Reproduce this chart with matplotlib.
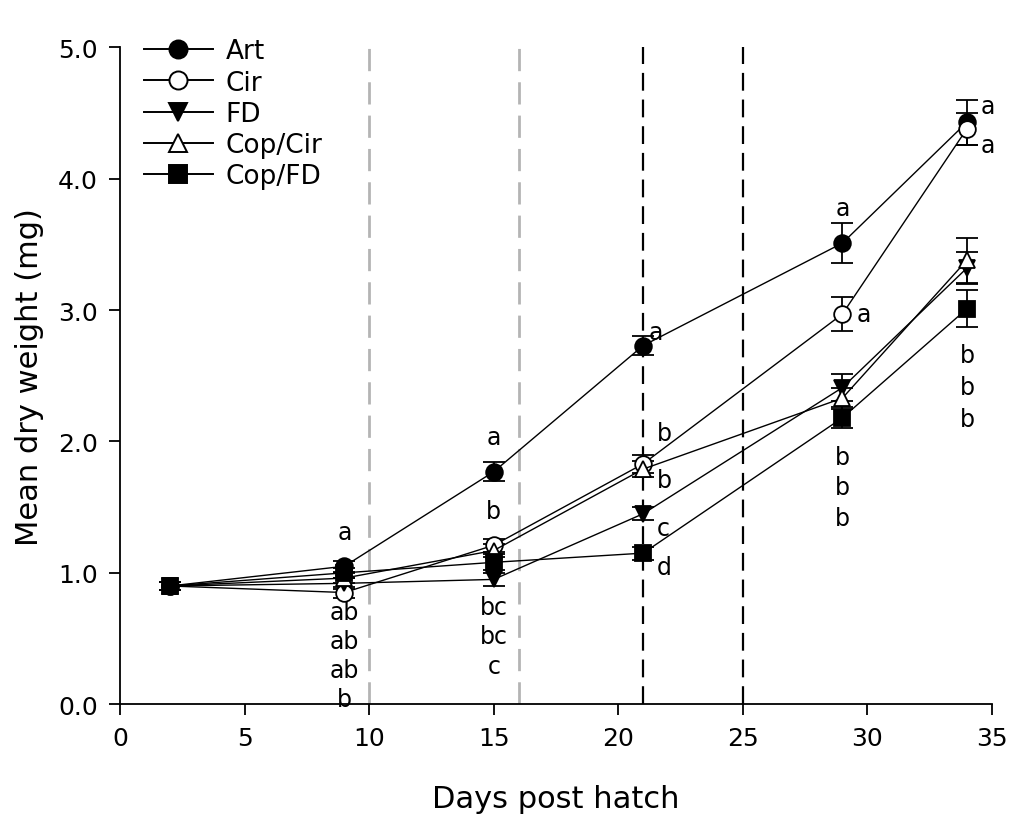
import numpy as np
import matplotlib.pyplot as plt
from matplotlib.lines import Line2D

plt.rcParams['font.family'] = ['DejaVu Sans']

# Sampling days
days = [2, 9, 15, 21, 29, 34]

# Mean dry weight (mg) and SE per diet
art = [0.90, 1.05, 1.77, 2.73, 3.51, 4.43]
art_se = [0.03, 0.04, 0.07, 0.07, 0.15, 0.17]
cir = [0.90, 0.85, 1.21, 1.83, 2.97, 4.38]
cir_se = [0.03, 0.04, 0.05, 0.07, 0.13, 0.12]
fd = [0.90, 0.92, 0.95, 1.45, 2.41, 3.32]
fd_se = [0.03, 0.04, 0.05, 0.05, 0.10, 0.12]
cop_cir = [0.90, 0.96, 1.17, 1.79, 2.33, 3.38]
cop_cir_se = [0.03, 0.04, 0.05, 0.06, 0.08, 0.17]
cop_fd = [0.90, 1.00, 1.08, 1.15, 2.18, 3.01]
cop_fd_se = [0.03, 0.04, 0.06, 0.05, 0.08, 0.14]

# Diet-change markers
grey_lines = [10, 16]
black_lines = [21, 25]

fig = plt.figure(figsize=(10.11, 8.2), dpi=100)
ax = fig.add_axes([0.119, 0.140, 0.862, 0.801])

for xv in grey_lines:
    ax.axvline(xv, color='#b4b4b4', ls=(0, (8, 4)), lw=2.0, zorder=1)
for xv in black_lines:
    ax.axvline(xv, color='black', ls=(0, (8, 4)), lw=1.6, zorder=1)

series = [
    ('Art', art, art_se, 'o', 'black'),
    ('Cir', cir, cir_se, 'o', 'white'),
    ('FD', fd, fd_se, 'v', 'black'),
    ('Cop/Cir', cop_cir, cop_cir_se, '^', 'white'),
    ('Cop/FD', cop_fd, cop_fd_se, 's', 'black'),
]
handles = []
for name, vals, se, mk, fc in series:
    ax.errorbar(days, vals, yerr=se, color='black', lw=1.0, marker=mk,
                mfc=fc, mec='black', mew=1.3, ms=12, capsize=8, capthick=1.3,
                elinewidth=1.3, zorder=3)
    handles.append(Line2D([], [], color='black', lw=1.4, marker=mk, mfc=fc,
                          mec='black', mew=1.4, ms=13, label=name))

# significance letters
fs = 17
def lab(d, v, t, dx=0, dy=0, ha='center'):
    ax.annotate(t, (d, v), xytext=(dx, dy), textcoords='offset points',
                ha=ha, va='center', fontsize=fs)

# day 9
lab(9, art[1], 'a', 0, 25)
for i, t in enumerate(['ab', 'ab', 'ab', 'b']):
    lab(9, cir[1], t, 0, -14 - 21 * i)
# day 15
lab(15, art[2], 'a', 0, 25)
lab(15, cir[2], 'b', 0, 25)
for i, t in enumerate(['bc', 'bc', 'c']):
    lab(15, fd[2], t, 0, -20 - 21 * i)
# day 21
lab(21, art[3], 'a', 4, 10, ha='left')
lab(21, cir[3], 'b', 10, 22, ha='left')
lab(21, cop_cir[3], 'b', 10, -8, ha='left')
lab(21, fd[3], 'c', 10, -10, ha='left')
lab(21, cop_fd[3], 'd', 10, -10, ha='left')
# day 29
lab(29, art[4], 'a', 0, 25)
lab(29, cir[4], 'a', 10, 0, ha='left')
for i, t in enumerate(['b', 'b', 'b']):
    lab(29, cop_fd[4], t, 0, -28 - 22 * i)
# day 34
lab(34, art[5], 'a', 10, 12, ha='left')
lab(34, cir[5], 'a', 10, -12, ha='left')
for i, t in enumerate(['b', 'b', 'b']):
    lab(34, cop_fd[5], t, 0, -33 - 23 * i)

ax.set_xlim(0, 35)
ax.set_ylim(0, 5)
ax.set_xticks(range(0, 36, 5))
ax.set_yticks(np.arange(0, 5.01, 1.0))
ax.set_yticklabels([f'{v:.1f}' for v in np.arange(0, 5.01, 1.0)])
ax.spines['top'].set_visible(False)
ax.spines['right'].set_visible(False)
for s in ('left', 'bottom'):
    ax.spines[s].set_linewidth(1.3)
ax.tick_params(direction='out', length=8, width=1.3, labelsize=18, pad=8)
ax.set_xlabel('Days post hatch', fontsize=22, labelpad=24)
ax.set_ylabel('Mean dry weight (mg)', fontsize=22, labelpad=10)

ax.legend(handles=handles, loc='upper left', bbox_to_anchor=(0.0, 1.05),
          frameon=False, fontsize=19, handlelength=2.6, labelspacing=0.2,
          handletextpad=0.5)

fig.savefig('out.png', dpi=100)
